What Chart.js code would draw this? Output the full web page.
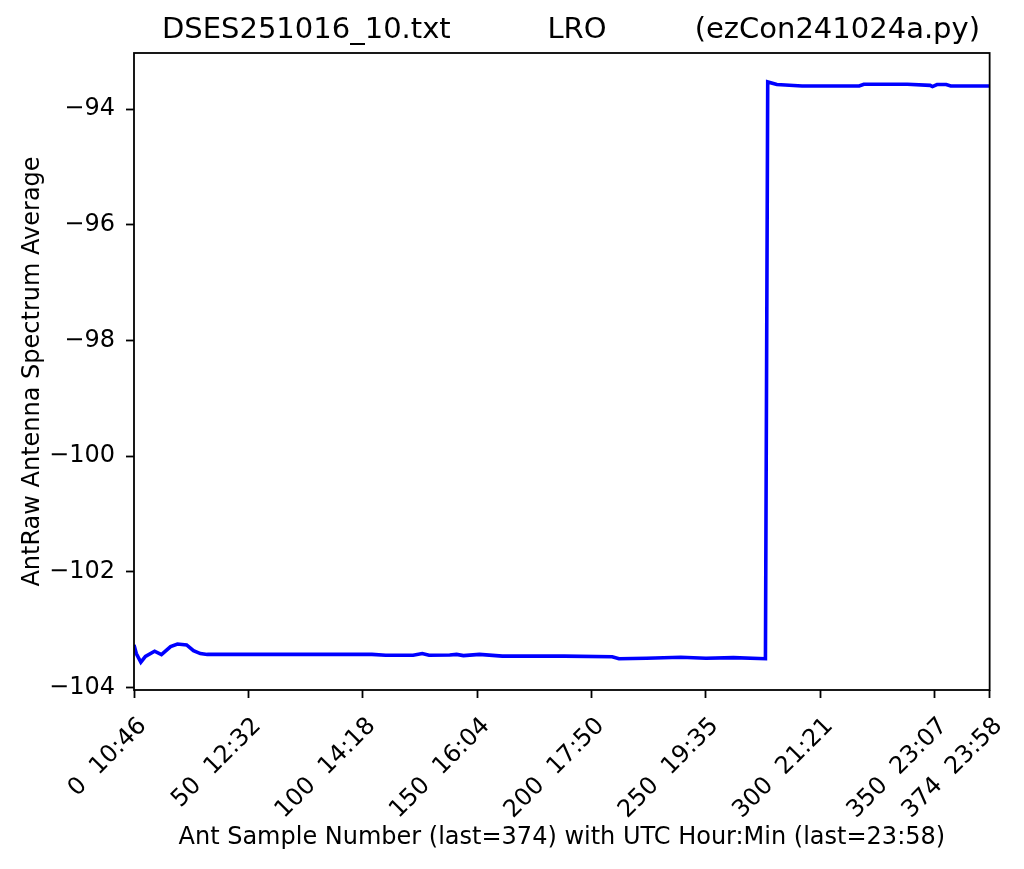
<!DOCTYPE html>
<html>
<head>
<meta charset="utf-8">
<script src="https://cdn.jsdelivr.net/npm/chart.js@4.4.1/dist/chart.umd.min.js"></script>
<style>
  html, body { margin: 0; padding: 0; background: #ffffff; }
  #wrap { width: 1024px; height: 869px; }
</style>
</head>
<body>
<div id="wrap"><canvas id="c" width="1024" height="869"></canvas></div>
<script>
// ---- Data ----
const titleLeft = "DSES251016_10.txt";
const titleMid = "LRO";
const titleRight = "(ezCon241024a.py)";
const xAxisTitle = "Ant Sample Number (last=374) with UTC Hour:Min (last=23:58)";
const yAxisTitle = "AntRaw Antenna Spectrum Average";

const sampleNum = [0, 1, 3, 5, 9, 12, 16, 19, 23, 26, 29, 32, 60, 86, 104, 110, 122, 126, 129, 138, 141, 144, 151, 161, 188, 209, 212, 224, 239, 250, 262, 276, 277, 281, 292, 317, 319, 338, 348, 349, 351, 355, 357, 374];
const antAverage = [-103.26, -103.41, -103.56, -103.46, -103.37, -103.43, -103.29, -103.245, -103.26, -103.36, -103.41, -103.425, -103.425, -103.425, -103.425, -103.44, -103.44, -103.41, -103.44, -103.435, -103.425, -103.445, -103.425, -103.455, -103.455, -103.465, -103.50, -103.49, -103.475, -103.49, -103.48, -103.50, -93.53, -93.575, -93.60, -93.60, -93.57, -93.57, -93.59, -93.61, -93.575, -93.575, -93.60, -93.60];

const xTickValues = [0, 50, 100, 150, 200, 250, 300, 350, 374];
const xTickTimes = ["10:46", "12:32", "14:18", "16:04", "17:50", "19:35", "21:21", "23:07", "23:58"];
const yTickValues = [-104, -102, -100, -98, -96, -94];

const FONT = '"DejaVu Sans", "Liberation Sans", sans-serif';

const points = sampleNum.map((s, i) => ({ x: s, y: antAverage[i] }));

const framePlugin = {
  id: 'frameAndTitle',
  afterDraw(chart) {
    const { ctx, chartArea: a } = chart;
    ctx.save();
    ctx.strokeStyle = '#000000';
    ctx.lineWidth = 1.8;
    ctx.strokeRect(a.left, a.top, a.right - a.left, a.bottom - a.top);
    ctx.fillStyle = '#000000';
    ctx.font = '29px ' + FONT;
    ctx.textBaseline = 'alphabetic';
    ctx.textAlign = 'left';
    ctx.fillText(titleLeft, 162, 38);
    ctx.textAlign = 'center';
    ctx.fillText(titleMid, 577, 38);
    ctx.textAlign = 'right';
    ctx.fillText(titleRight, 980, 38);
    ctx.restore();
  }
};

new Chart(document.getElementById('c'), {
  type: 'line',
  data: {
    datasets: [{
      data: points,
      borderColor: '#0000ff',
      backgroundColor: '#0000ff',
      borderWidth: 3.6,
      pointRadius: 0,
      tension: 0,
      fill: false
    }]
  },
  options: {
    responsive: false,
    animation: false,
    layout: { padding: { top: 53, right: 34, left: 0, bottom: 0 } },
    plugins: {
      legend: { display: false },
      title: { display: false },
      tooltip: { enabled: false }
    },
    scales: {
      x: {
        type: 'linear',
        position: 'bottom',
        min: 0,
        max: 374,
        afterFit(s) { s.height = 869 - 690; },
        afterBuildTicks(s) { s.ticks = xTickValues.map(v => ({ value: v })); },
        border: { display: false },
        grid: { display: true, drawOnChartArea: false, drawTicks: true, tickLength: 8, tickColor: '#000000', tickWidth: 1.8 },
        ticks: {
          autoSkip: false,
          minRotation: 45,
          maxRotation: 45,
          padding: 14,
          labelOffset: 9,
          color: '#000000',
          font: { family: FONT, size: 24 },
          callback(v) {
            const i = xTickValues.indexOf(v);
            return i >= 0 ? v + '  ' + xTickTimes[i] : '';
          }
        },
        title: {
          display: true,
          text: xAxisTitle,
          color: '#000000',
          font: { family: FONT, size: 24 },
          padding: { top: 0, bottom: 17 }
        }
      },
      y: {
        type: 'linear',
        position: 'left',
        min: -104.04,
        max: -93.03,
        afterFit(s) { s.width = 134; },
        afterBuildTicks(s) { s.ticks = yTickValues.map(v => ({ value: v })); },
        border: { display: false },
        grid: { display: true, drawOnChartArea: false, drawTicks: true, tickLength: 8, tickColor: '#000000', tickWidth: 1.8 },
        ticks: {
          padding: 11,
          color: '#000000',
          font: { family: FONT, size: 24 },
          callback(v) { return (v < 0 ? '\u2212' : '') + Math.abs(v); }
        },
        title: {
          display: true,
          text: yAxisTitle,
          color: '#000000',
          font: { family: FONT, size: 24 },
          padding: { top: 18, bottom: 0 }
        }
      }
    }
  },
  plugins: [framePlugin]
});
</script>
</body>
</html>
